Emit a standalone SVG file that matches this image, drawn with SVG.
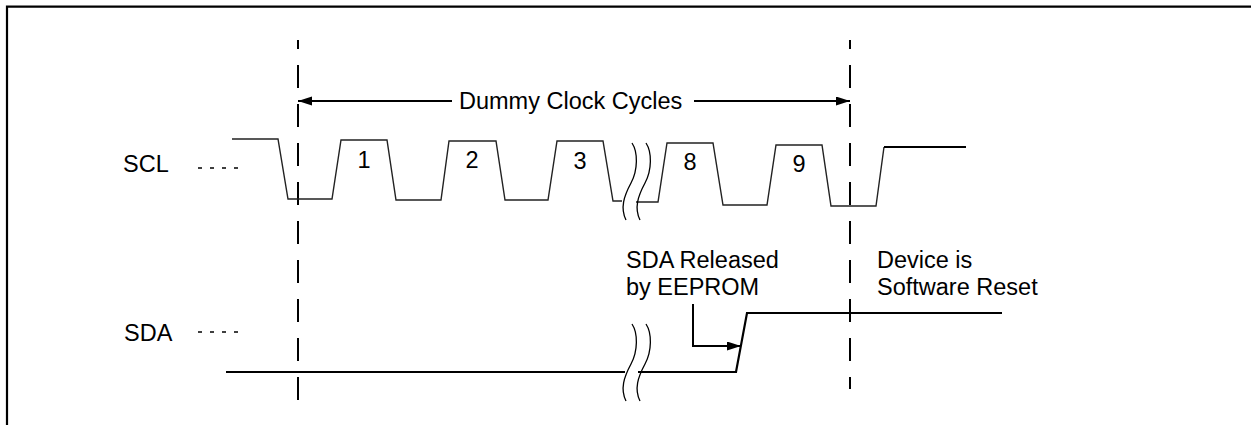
<svg xmlns="http://www.w3.org/2000/svg" width="1251" height="425" viewBox="0 0 1251 425">
<style>
text{font-family:"Liberation Sans",Arial,sans-serif;font-size:23.5px;fill:#000}
.mid{text-anchor:middle}
.frame{fill:none;stroke:#000;stroke-width:2.2}
.sig{fill:none;stroke:#222;stroke-width:1.4;stroke-linejoin:miter}
.sig2{fill:none;stroke:#000;stroke-width:2.2}
.dash{fill:none;stroke:#000;stroke-width:2;stroke-dasharray:23 16}
.dots{fill:none;stroke:#000;stroke-width:1.6;stroke-dasharray:4 8}
.brk{fill:none;stroke:#000;stroke-width:1.3}
.arr{fill:none;stroke:#000;stroke-width:2}
</style>
<defs>
<marker id="ah" markerWidth="15" markerHeight="10" refX="14" refY="4.5" orient="auto-start-reverse" markerUnits="userSpaceOnUse">
<path d="M0,0 L14,4.5 L0,9 Z" fill="#000"/>
</marker>
<path id="wave" d="M0,0 C6,9 6,27 -1,40 C-8,53 -12,65 -6,77"/>
</defs>
<g id="frame"><path class="frame" d="M7,425 V6.7 H1251"/></g>
<g id="markers">
<line class="dash" x1="298" y1="40" x2="298" y2="405" stroke-dashoffset="14"/>
<line class="dash" x1="850" y1="40" x2="850" y2="389" stroke-dashoffset="14"/>
</g>
<g id="scl">
<text x="123" y="172">SCL</text>
<line class="dots" x1="198" y1="168" x2="240" y2="168"/>
<polyline class="sig" points="232,139 278,139 288,199 332,199 341,140 387,140 396,200 441,200 449,141 496,141 505,200 548,200 557,141 603,141 613,201 622,201"/>
<polyline class="sig" points="636,202 658,202 667,143 713,143 723,205 767,205 776,145 822,145 831,206 876,206 884,147"/>
<line class="sig2" x1="884" y1="147" x2="966" y2="147"/>
<use href="#wave" class="brk" x="632" y="143"/>
<use href="#wave" class="brk" x="646" y="143"/>
<text class="mid" x="364" y="168">1</text>
<text class="mid" x="472" y="168">2</text>
<text class="mid" x="580" y="169">3</text>
<text class="mid" x="690" y="170">8</text>
<text class="mid" x="799" y="172">9</text>
</g>
<g id="sda">
<text x="124" y="341">SDA</text>
<line class="dots" x1="198" y1="332" x2="240" y2="332"/>
<line class="sig2" x1="226" y1="372" x2="625" y2="372"/>
<polyline class="sig2" points="638,372 736,372 747,313 1002,313"/>
<use href="#wave" class="brk" x="632" y="324"/>
<use href="#wave" class="brk" x="646" y="324"/>
</g>
<g id="dummy-label"><text x="459" y="109">Dummy Clock Cycles</text></g>
<g id="released-label"><text x="626" y="268">SDA Released</text><text x="626" y="295">by EEPROM</text></g>
<g id="reset-label"><text x="877" y="268">Device is</text><text x="877" y="295">Software Reset</text></g>
<g id="connectors">
<line class="arr" x1="452" y1="101" x2="298" y2="101" marker-end="url(#ah)"/>
<line class="arr" x1="694" y1="101" x2="850" y2="101" marker-end="url(#ah)"/>
<polyline class="arr" points="693,304 693,346 741,346" marker-end="url(#ah)"/>
</g>
</svg>
